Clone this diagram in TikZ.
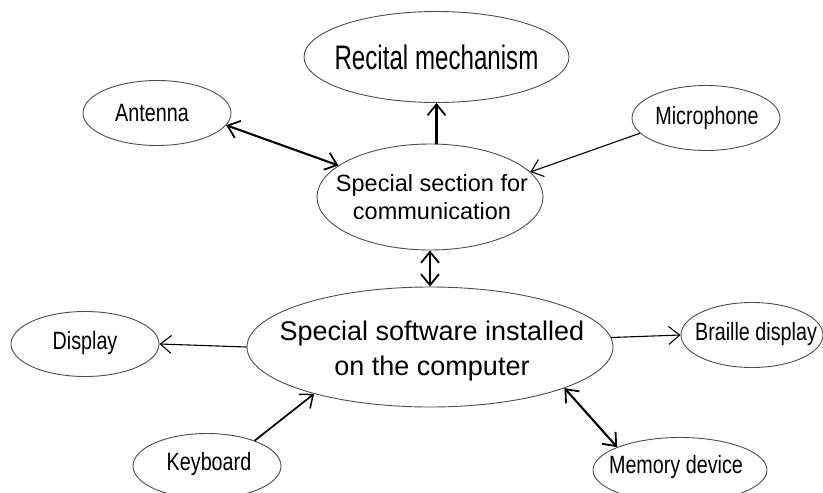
\documentclass[tikz,border=0pt]{standalone}
\usepackage{fontspec}
\setmainfont{Liberation Sans}
\newfontfamily\narrowfont[FakeStretch=0.79]{Liberation Sans}
\newfontfamily\titlefont[FakeStretch=0.71]{Liberation Sans}
\usetikzlibrary{shapes.geometric,arrows.meta}
\begin{document}
\begin{tikzpicture}[x=1pt,y=-1pt,
  blob/.style={ellipse, draw=black!70, line width=0.9pt, inner sep=0pt},
  smallblob/.style={blob, minimum width=148pt, minimum height=65pt},
  small/.style={font=\narrowfont\fontsize{25}{30}\selectfont, inner sep=0pt},
  barb/.style={Straight Barb[length=11pt,width=18pt,line width=#1]},
  thinlink/.style={line width=1.1pt, -{Straight Barb[length=11pt,width=18pt,line width=1.1pt]}},
  thicklink/.style={line width=2.1pt, -{Straight Barb[length=11pt,width=18pt,line width=1.8pt]}},
  bothlink/.style={line width=2.1pt, {Straight Barb[length=11pt,width=18pt,line width=1.8pt]}-{Straight Barb[length=11pt,width=18pt,line width=1.8pt]}}
]
\useasboundingbox (0,0) rectangle (823,493);

% outer nodes
\node[blob, minimum width=265pt, minimum height=91pt] (rec) at (436.5,57) {};
\node[smallblob] (ant) at (157,113) {};
\node[smallblob] (mic) at (706,118) {};
\node[smallblob] (disp) at (85,344) {};
\node[smallblob] (kb) at (207,466) {};
\node[smallblob, minimum width=142pt] (brl) at (752,335) {};
\node[smallblob, minimum width=174pt] (mem) at (680,470) {};

% central nodes
\node[blob, minimum width=226pt, minimum height=106pt] (sec) at (430,197) {};
\node[blob, minimum width=366pt, minimum height=120pt] (soft) at (430,347) {};

% labels
\node[font=\titlefont\fontsize{34}{40}\selectfont, inner sep=0pt] (recT) at (rec) {Recital mechanism};
\node[small] (antT) at (152,113) {Antenna};
\node[small] (micT) at (707,118) {Microphone};
\node[small] (dispT) at (85,343) {Display};
\node[small] (kbT) at (209,464) {Keyboard};
\node[small] (brlT) at (756,334) {Braille display};
\node[small] (memT) at (676,467) {Memory device};
\node[align=center, font=\fontsize{23.5}{28}\selectfont, inner sep=0pt] (secT) at (432,197)
  {Special section for\\communication};
\node[align=center, font=\fontsize{27}{35}\selectfont, inner sep=0pt] (softT) at (432,351)
  {Special software installed\\on the computer};

% connectors
\draw[bothlink] (ant.-10) -- (sec.161);
\draw[thicklink] (sec.north -| rec.south) -- (rec.south);
\draw[thinlink] (mic.193) -- (sec.14);
\draw[bothlink] (sec.south) -- (soft.north);
\draw[thinlink] (soft.west) -- (disp.east);
\draw[thinlink] (soft.3.5) -- (brl.west);
\draw[line width=1.7pt, -{Straight Barb[length=11pt,width=18pt,line width=1.5pt]}] (kb.28) -- (soft.202.6);
\draw[bothlink] (soft.-17) -- (mem.160);
\end{tikzpicture}
\end{document}
